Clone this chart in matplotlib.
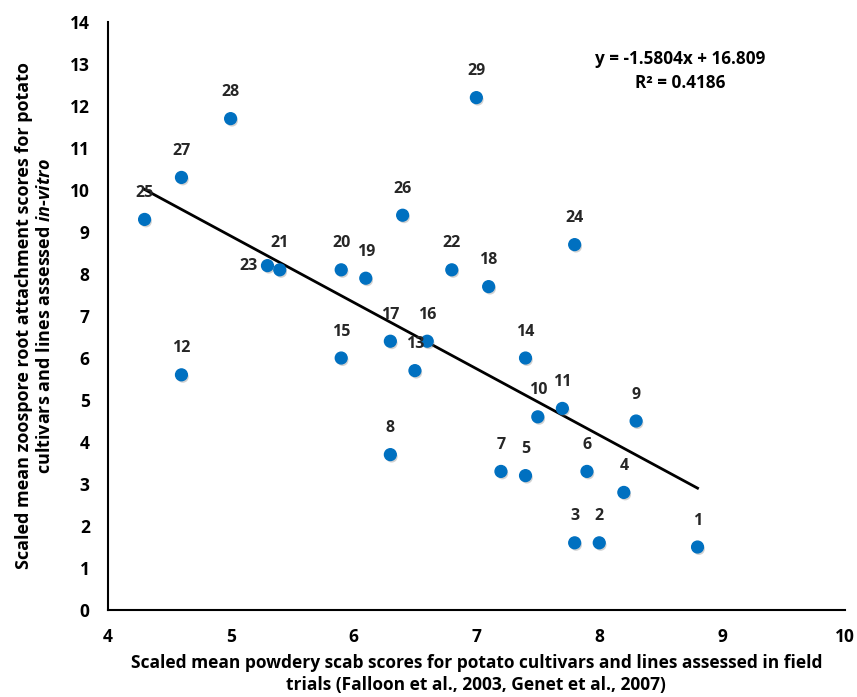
import matplotlib
matplotlib.use("Agg")
import matplotlib.pyplot as plt
import matplotlib.patheffects as pe
import numpy as np

plt.rcParams['font.family'] = ['Open Sans', 'DejaVu Sans']
plt.rcParams['font.weight'] = 'bold'
plt.rcParams['mathtext.fontset'] = 'custom'
plt.rcParams['mathtext.bfit'] = 'Open Sans:italic:bold'
plt.rcParams['mathtext.it'] = 'Open Sans:italic:bold'

# cultivar / line number, field score (x), in-vitro score (y)
ids = list(range(1, 30))
field = [8.8, 8.0, 7.8, 8.2, 7.4, 7.9, 7.2, 6.3, 8.3, 7.5,
         7.7, 4.6, 6.5, 7.4, 5.9, 6.6, 6.3, 7.1, 6.1, 5.9,
         5.4, 6.8, 5.3, 7.8, 4.3, 6.4, 4.6, 5.0, 7.0]
invitro = [1.5, 1.6, 1.6, 2.8, 3.2, 3.3, 3.3, 3.7, 4.5, 4.6,
           4.8, 5.6, 5.7, 6.0, 6.0, 6.4, 6.4, 7.7, 7.9, 8.1,
           8.1, 8.1, 8.2, 8.7, 9.3, 9.4, 10.3, 11.7, 12.2]

slope = -1.5804
intercept = 16.809
r2 = 0.4186

fig = plt.figure(figsize=(8.57, 6.97), dpi=100)
ax = fig.add_axes([0.1257, 0.1248, 0.8603, 0.8436])

shadow = [pe.SimplePatchShadow(offset=(1, -1.5), shadow_rgbFace='gray', alpha=0.35), pe.Normal()]
ax.scatter(field, invitro, s=72, color='#0070C0', zorder=3, path_effects=shadow)

xs = np.array([min(field), max(field)])
ax.plot(xs, slope * xs + intercept, color='black', lw=2, zorder=2)

for i, x, y in zip(ids, field, invitro):
    if i == 23:
        ax.annotate(str(i), (x, y), xytext=(-7, 0), textcoords='offset points',
                    ha='right', va='center', fontsize=11.5, fontweight='bold', color='#262626')
    else:
        ax.annotate(str(i), (x, y), xytext=(0, 19), textcoords='offset points',
                    ha='center', va='center', fontsize=11.5, fontweight='bold', color='#262626')

ax.text(8.66, 13.12, "y = -1.5804x + 16.809", ha='center', va='center',
        fontsize=12.3, fontweight='bold', color='black')
ax.text(8.66, 12.55, "R² = %.4f" % r2, ha='center', va='center',
        fontsize=12.3, fontweight='bold', color='black')

ax.set_xlim(4, 10)
ax.set_ylim(0, 14)
ax.set_xticks(range(4, 11))
ax.set_yticks(range(0, 15))
ax.tick_params(length=0, labelsize=12.5, pad=13)
for lab in ax.get_xticklabels() + ax.get_yticklabels():
    lab.set_fontweight('bold')
ax.spines['top'].set_visible(False)
ax.spines['right'].set_visible(False)
ax.spines['left'].set_linewidth(1.5)
ax.spines['bottom'].set_linewidth(1.5)

ax.set_xlabel("Scaled mean powdery scab scores for potato cultivars and lines assessed in field\n"
              "trials (Falloon et al., 2003, Genet et al., 2007)",
              fontsize=12.5, fontweight='bold', labelpad=6, linespacing=1.25)
ax.set_ylabel("Scaled mean zoospore root attachment scores for potato\n"
              r"cultivars and lines assessed $\mathbfit{in}$-$\mathbfit{vitro}$",
              fontsize=13, fontweight='bold', labelpad=11, linespacing=1.25)

fig.savefig("out.png", dpi=100)
